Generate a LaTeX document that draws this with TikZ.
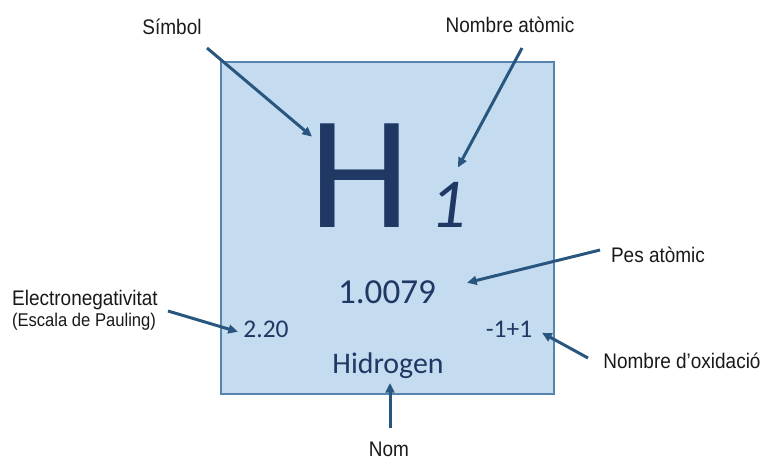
\documentclass[tikz,border=0pt]{standalone}
\usepackage{fontspec}
\usepackage{xcolor}
\usetikzlibrary{arrows.meta}
\newfontfamily\lblfont[FakeStretch=0.9]{Liberation Sans}
\newfontfamily\valfont{Carlito}
\definecolor{boxfill}{RGB}{197,220,240}
\definecolor{boxline}{RGB}{88,132,176}
\definecolor{navy}{RGB}{31,56,100}
\definecolor{arrcol}{RGB}{40,86,126}

\begin{document}
\begin{tikzpicture}[x=0.02cm, y=-0.02cm,
  lbl/.style={inner sep=0pt, anchor=base, text=black!90, font=\lblfont\fontsize{12}{14}\selectfont},
  val/.style={inner sep=0pt, anchor=base, text=navy, font=\valfont\fontsize{#1}{#1}\selectfont},
  val/.default=14.5,
  arr/.style={draw=arrcol, line width=1.7pt, -{Triangle[length=5.5pt,width=5pt]}}]
\useasboundingbox (0,0) rectangle (763,459);
% element box
\draw[boxline, fill=boxfill, line width=1.1pt] (221,62) rectangle (554,394);
% values inside the box
\node[val=92] (sym) at (359.5,227) {H};
\node[val=40] (num) at (448,227) {\itshape 1};
\node[val=20] (mass) at (387,303) {1.0079};
\node[val] (en) at (266,337) {2.20};
\node[val] (ox) at (509,337) {-1+1};
\node[val=17] (name) at (388,373) {Hidrogen};
% labels
\node[lbl] (symL) at (172,35) {Símbol};
\node[lbl] (numL) at (510,33) {Nombre atòmic};
\node[lbl] (massL) at (658,262) {Pes atòmic};
\node[lbl] (enL) at (85,305) {Electronegativitat};
\node[lbl, font=\lblfont\fontsize{10.5}{12}\selectfont] (scaleL) at (84,326) {(Escala de Pauling)};
\node[lbl] (oxL) at (682,368) {Nombre d’oxidació};
\node[lbl] (nameL) at (389,456) {Nom};
% arrows
\draw[arr] ([shift={(35,13)}]symL.base) -- ([shift={(-47.5,-38.5)}]sym.center);
\draw[arr] ([shift={(12,15)}]numL.base) -- ([shift={(10,-37)}]num.center);
\draw[arr] ([shift={(-58,-12)}]massL.base) -- ([shift={(80,-9)}]mass.center);
\draw[arr] ([shift={(83,6)}]enL.base) -- ([shift={(-28,3)}]en.center);
\draw[arr] ([shift={(-94,-10)}]oxL.base) -- ([shift={(33,4)}]ox.center);
\draw[arr] ([shift={(1,-28)}]nameL.base) -- ([shift={(2,10)}]name.base);
\end{tikzpicture}
\end{document}
